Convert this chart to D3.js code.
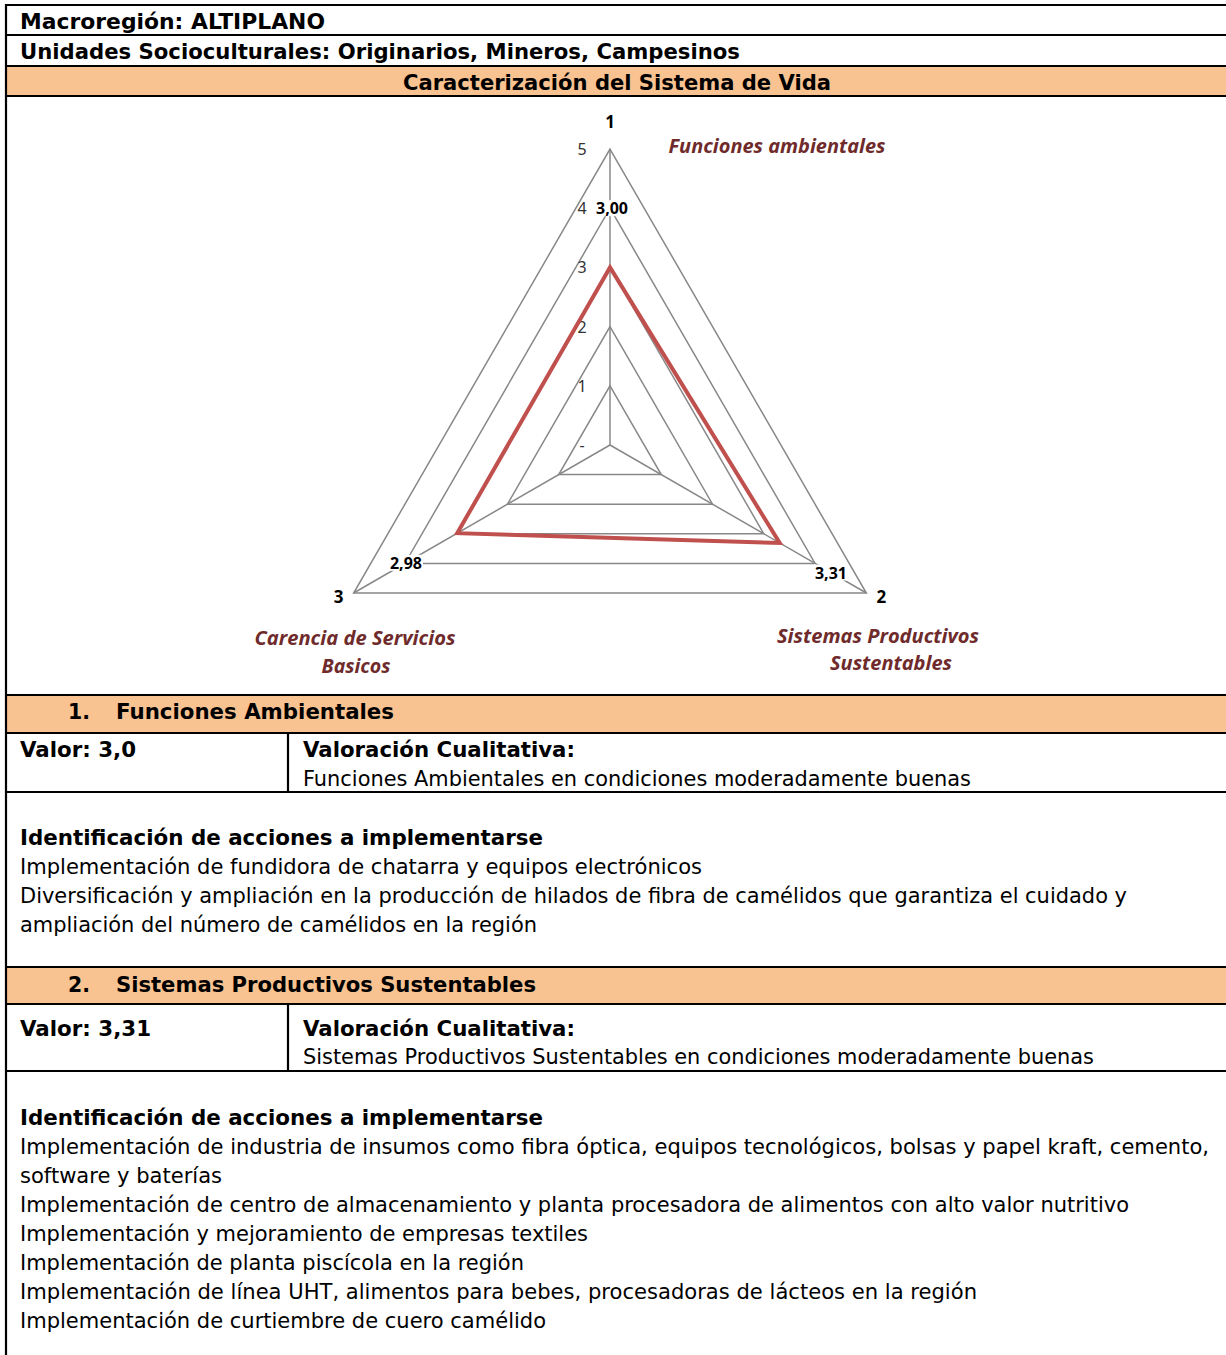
<!DOCTYPE html>
<html><head><meta charset="utf-8">
<script src="https://cdn.jsdelivr.net/npm/d3@7"></script>
<style>body{margin:0;background:#fff}svg{display:block}</style>
</head><body>
<script>
// ---- Data ----
const axisNumbers = ["1", "2", "3"];
const axisNames = [["Funciones ambientales"], ["Sistemas Productivos", "Sustentables"], ["Carencia de Servicios", "Basicos"]];
const values = [3.00, 3.31, 2.98];
const valueLabels = ["3,00", "3,31", "2,98"];
const tickValues = [0, 1, 2, 3, 4, 5];
const tickLabels = ["-", "1", "2", "3", "4", "5"];

const headerLines = ["Macroregión: ALTIPLANO", "Unidades Socioculturales: Originarios, Mineros, Campesinos"];
const chartTitle = "Caracterización del Sistema de Vida";
const sectionTitles = ["Funciones Ambientales", "Sistemas Productivos Sustentables"];
const sectionValues = ["Valor: 3,0", "Valor: 3,31"];
const qualLabel = "Valoración Cualitativa:";
const qualTexts = ["Funciones Ambientales en condiciones moderadamente buenas",
  "Sistemas Productivos Sustentables en condiciones moderadamente buenas"];
const actionsTitle = "Identificación de acciones a implementarse";
const actions1 = ["Implementación de fundidora de chatarra y equipos electrónicos",
  "Diversificación y ampliación en la producción de hilados de fibra de camélidos que garantiza el cuidado y",
  "ampliación del número de camélidos en la región"];
const actions2 = ["Implementación de industria de insumos como fibra óptica, equipos tecnológicos, bolsas y papel kraft, cemento,",
  "software y baterías",
  "Implementación de centro de almacenamiento y planta procesadora de alimentos con alto valor nutritivo",
  "Implementación y mejoramiento de empresas textiles",
  "Implementación de planta piscícola en la región",
  "Implementación de línea UHT, alimentos para bebes, procesadoras de lácteos en la región",
  "Implementación de curtiembre de cuero camélido"];

// ---- Layout ----
const W = 1226, H = 1355;
const svg = d3.select("body").append("svg").attr("width", W).attr("height", H);
const ORANGE = "#f8c291";
const FONT = "'DejaVu Sans', Verdana, sans-serif";

function txt(x, cy, s, o = {}) {
  const t = svg.append("text").attr("x", x).attr("y", cy + 7.5)
    .attr("font-family", FONT).attr("font-size", o.size || 21)
    .attr("font-weight", o.bold ? "bold" : "normal")
    .attr("text-anchor", o.anchor || "start").attr("fill", "#000").text(s);
  if (o.w) t.attr("textLength", o.w).attr("lengthAdjust", "spacingAndGlyphs");
  return t;
}
function hline(y, x1 = 6, x2 = W) {
  svg.append("line").attr("x1", x1).attr("x2", x2).attr("y1", y).attr("y2", y)
    .attr("stroke", "#000").attr("stroke-width", 2.2);
}
function vline(x, y1, y2) {
  svg.append("line").attr("x1", x).attr("x2", x).attr("y1", y1).attr("y2", y2)
    .attr("stroke", "#000").attr("stroke-width", 2.2);
}

// orange bands
[[66, 96], [695, 733], [967, 1004]].forEach(([a, b]) =>
  svg.append("rect").attr("x", 6).attr("y", a).attr("width", W - 6).attr("height", b - a).attr("fill", ORANGE));

[5, 35, 66, 96, 695, 733, 792, 967, 1004, 1071].forEach(y => hline(y));
vline(6, 4, H);
vline(288, 733, 792);
vline(288, 1004, 1071);

// header text
txt(20, 21, headerLines[0], { bold: true, w: 305 });
txt(20, 51, headerLines[1], { bold: true, w: 720 });
txt(617, 82, chartTitle, { bold: true, anchor: "middle", w: 428 });

// section 1
txt(68, 711, "1.", { bold: true, w: 22 });
txt(116, 711, sectionTitles[0], { bold: true, w: 278 });
txt(20, 749, sectionValues[0], { bold: true, w: 116 });
txt(303, 749, qualLabel, { bold: true, w: 272 });
txt(303, 778, qualTexts[0], { w: 668 });
txt(20, 837, actionsTitle, { bold: true, w: 523 });
const w1 = [682, 1107, 517];
actions1.forEach((s, i) => txt(20, 866 + 29 * i, s, { w: w1[i] }));

// section 2
txt(68, 984, "2.", { bold: true, w: 22 });
txt(116, 984, sectionTitles[1], { bold: true, w: 420 });
txt(20, 1028, sectionValues[1], { bold: true, w: 131 });
txt(303, 1028, qualLabel, { bold: true, w: 272 });
txt(303, 1056, qualTexts[1], { w: 791 });
txt(20, 1117, actionsTitle, { bold: true, w: 523 });
const w2 = [1189, 202, 1109, 568, 504, 957, 526];
actions2.forEach((s, i) => txt(20, 1146 + 29 * i, s, { w: w2[i] }));

// ---- Radar chart ----
const cx = 610, cy = 445;
const r = d3.scaleLinear().domain([0, 5]).range([0, 296]);
const ang = i => -Math.PI / 2 + i * 2 * Math.PI / 3;
const pt = (i, v) => [cx + r(v) * Math.cos(ang(i)), cy + r(v) * Math.sin(ang(i))];
const g = svg.append("g");
const line = d3.line();
const GRID = "#888";

// grid triangles
tickValues.filter(v => v > 0).forEach(v => {
  g.append("path").attr("d", line([0, 1, 2].map(i => pt(i, v))) + "Z")
    .attr("fill", "none").attr("stroke", GRID).attr("stroke-width", 1.5);
});
// spokes
[0, 1, 2].forEach(i => {
  const p = pt(i, 5);
  g.append("line").attr("x1", cx).attr("y1", cy).attr("x2", p[0]).attr("y2", p[1])
    .attr("stroke", GRID).attr("stroke-width", 1.5);
});
// tick labels
tickValues.forEach((v, k) => {
  g.append("text").attr("x", cx - 28).attr("y", cy - r(v) + 6)
    .attr("font-family", "'Noto Sans', sans-serif").attr("font-size", 16)
    .attr("text-anchor", "middle").attr("fill", "#333").text(tickLabels[k]);
});
// data polygon
g.append("path").attr("d", line(values.map((v, i) => pt(i, v))) + "Z")
  .attr("fill", "none").attr("stroke", "#c0504d").attr("stroke-width", 4)
  .attr("stroke-linejoin", "miter");
// value labels with white backing
values.forEach((v, i) => {
  const p = pt(i, v + 1);
  const x = p[0] + (i === 0 ? 2 : 0);
  g.append("rect").attr("x", x - 17).attr("y", p[1] - 8).attr("width", 34).attr("height", 16).attr("fill", "#fff");
  g.append("text").attr("x", x).attr("y", p[1] + 6)
    .attr("font-family", "'Noto Sans', sans-serif").attr("font-size", 16).attr("font-weight", "bold")
    .attr("text-anchor", "middle").attr("fill", "#000").text(valueLabels[i]);
});
// axis numbers
const numOff = [[0, -27], [15, 4], [-15, 4]];
axisNumbers.forEach((s, i) => {
  const p = pt(i, 5);
  g.append("text").attr("x", p[0] + numOff[i][0]).attr("y", p[1] + numOff[i][1] + 6)
    .attr("font-family", "'Noto Sans', sans-serif").attr("font-size", 17).attr("font-weight", "bold")
    .attr("text-anchor", "middle").attr("fill", "#000").text(s);
});
// axis names
const namePos = [[[777, 147]], [[878, 637], [891, 664]], [[355, 639], [356, 667]]];
const nameW = [[217], [202, 122], [201, 69]];
axisNames.forEach((lines, i) => {
  lines.forEach((s, j) => {
    g.append("text").attr("x", namePos[i][j][0]).attr("y", namePos[i][j][1] + 6)
      .attr("font-family", "'Open Sans', sans-serif").attr("font-size", 19)
      .attr("font-weight", "bold").attr("font-style", "italic")
      .attr("text-anchor", "middle").attr("fill", "#6f2b2b")
      .attr("textLength", nameW[i][j]).attr("lengthAdjust", "spacingAndGlyphs").text(s);
  });
});
</script>
</body></html>
